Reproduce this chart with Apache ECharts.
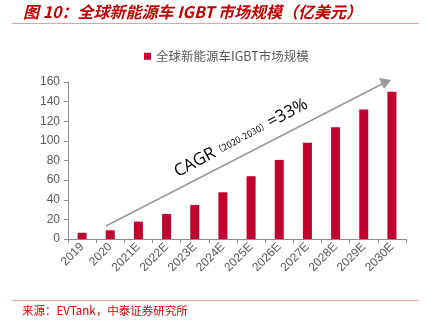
<!DOCTYPE html>
<html><head><meta charset="utf-8">
<script src="https://cdn.jsdelivr.net/npm/echarts@6/dist/echarts.min.js"></script>
<style>html,body{margin:0;padding:0;background:#fff}#c{width:426px;height:321px}</style>
</head><body><div id="c"></div>
<script>
const categories = ['2019','2020','2021E','2022E','2023E','2024E','2025E','2026E','2027E','2028E','2029E','2030E'];
const values = [6.4, 8.9, 17.7, 25.5, 34.7, 47.6, 64, 80.6, 98, 114, 132, 150];
const yTicks = {min: 0, max: 160, interval: 20};
const seriesName = '全球新能源车IGBT市场规模';
const titleText = '图 10：全球新能源车 IGBT 市场规模（亿美元）';
const sourceText = '来源：EVTank，中泰证券研究所';

const chart = echarts.init(document.getElementById('c'), null, {renderer: 'canvas'});
const gray = '#595959';
chart.setOption({
  animation: false,
  backgroundColor: '#fff',
  grid: {left: 68, right: 20, top: 82, bottom: 82},
  legend: {
    top: 45, left: 139,
    icon: 'rect', itemWidth: 7, itemHeight: 7, itemGap: 5,
    textStyle: {color: '#595959', fontSize: 12.5, fontFamily: 'Noto Sans CJK SC'},
    data: [seriesName]
  },
  xAxis: {
    type: 'category', data: categories,
    axisLine: {lineStyle: {color: '#8c8c8c', width: 1}},
    axisTick: {show: true, length: 4, lineStyle: {color: '#8c8c8c'}},
    axisLabel: {rotate: 45, color: gray, fontSize: 12, fontFamily: 'Liberation Sans', margin: 6}
  },
  yAxis: {
    type: 'value', min: yTicks.min, max: yTicks.max, interval: yTicks.interval,
    axisLine: {show: true, lineStyle: {color: '#8c8c8c'}},
    axisTick: {show: true, length: 4, lineStyle: {color: '#8c8c8c'}},
    splitLine: {show: false},
    axisLabel: {color: gray, fontSize: 12, fontFamily: 'Liberation Sans', margin: 8}
  },
  series: [{
    name: seriesName, type: 'bar', data: values, barWidth: 9,
    itemStyle: {color: '#c0002f'}
  }],
  graphic: [
    {type: 'text', left: 23, top: 4, style: {text: titleText, fill: '#c00000', font: 'italic bold 16px "Noto Sans CJK SC"'}},
    {type: 'line', shape: {x1: 12, y1: 23.5, x2: 419, y2: 23.5}, style: {stroke: '#e8a0a0', lineWidth: 1}},
    {type: 'line', shape: {x1: 12, y1: 300.5, x2: 419, y2: 300.5}, style: {stroke: '#e8a0a0', lineWidth: 1}},
    {type: 'text', left: 22, top: 305, style: {text: sourceText, fill: '#d00000', font: '11.5px "Noto Sans CJK SC"'}},
    {type: 'line', shape: {x1: 106, y1: 226, x2: 383, y2: 83.5}, style: {stroke: '#999999', lineWidth: 1.6}},
    {type: 'polygon', shape: {points: [[391, 80], [379, 78], [384, 89]]}, style: {fill: '#999999'}},
    {type: 'text', x: 241, y: 138, rotation: 28 * Math.PI / 180,
      style: {
        text: '{a|CAGR}{b|（2020-2030）}{a|=33%}',
        align: 'center', verticalAlign: 'middle',
        rich: {
          a: {fontSize: 17, fill: '#000', fontFamily: 'Open Sans'},
          b: {fontSize: 9, fill: '#000', fontFamily: 'Noto Sans CJK SC'}
        }
      }}
  ]
});
</script></body></html>
